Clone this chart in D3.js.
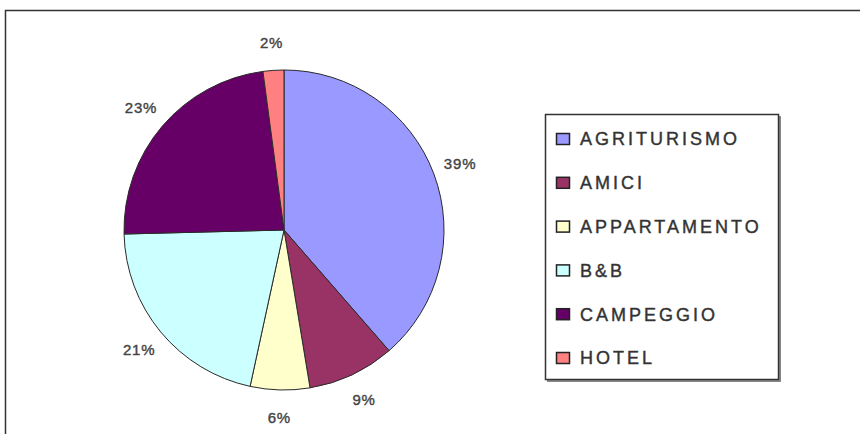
<!DOCTYPE html>
<html>
<head>
<meta charset="utf-8">
<script src="https://cdn.jsdelivr.net/npm/d3@7"></script>
<style>
  body { margin: 0; background: #fff; }
  .pctLabel { font-family: "Liberation Sans", Arial, sans-serif; font-size: 15px; fill: #444; stroke: #444; stroke-width: 0.4px; letter-spacing: 0.8px; }
  .legendText { font-family: "Liberation Sans", Arial, sans-serif; font-size: 18px; fill: #333; stroke: #333; stroke-width: 0.4px; letter-spacing: 3px; }
</style>
</head>
<body>
<script>
// Chart data
var categories = ["AGRITURISMO", "AMICI", "APPARTAMENTO", "B&B", "CAMPEGGIO", "HOTEL"];
var values = [38.6, 8.8, 6.0, 21.2, 23.3, 2.1];
var colors = ["#9999ff", "#993366", "#ffffcc", "#ccffff", "#660066", "#ff8080"];

var svgWidth = 860;
var svgHeight = 434;

var svg = d3.select("body")
    .append("svg")
    .attr("width", svgWidth)
    .attr("height", svgHeight);

// outer frame (runs off the right and bottom edges)
svg.append("path")
    .attr("d", "M5.5,440 L5.5,10.5 L870,10.5")
    .attr("fill", "none")
    .attr("stroke", "#333")
    .attr("stroke-width", 1.5);

var data = categories.map((c, i) => ({ name: c, value: values[i], color: colors[i] }));
var total = d3.sum(values);

var pie = d3.pie()
    .sort(null)
    .value(d => d.value);

var radius = 160;
var arc = d3.arc().innerRadius(0).outerRadius(radius);
var labelArc = d3.arc().innerRadius(188).outerRadius(188);

var pieGroup = svg.append("g")
    .attr("transform", "translate(284, 230)");

pieGroup.selectAll("path")
    .data(pie(data))
    .enter()
    .append("path")
    .attr("d", arc)
    .attr("fill", d => d.data.color)
    .attr("stroke", "#2a2a2a")
    .attr("stroke-width", 1);

pieGroup.selectAll("text")
    .data(pie(data))
    .enter()
    .append("text")
    .attr("class", "pctLabel")
    .attr("transform", d => `translate(${labelArc.centroid(d)})`)
    .attr("text-anchor", "middle")
    .attr("dy", "0.35em")
    .text(d => Math.round(d.data.value / total * 100) + "%");

// Legend
var legend = svg.append("g")
    .attr("transform", "translate(545, 114)");

legend.append("rect")
    .attr("x", 2).attr("y", 2)
    .attr("width", 234).attr("height", 266)
    .attr("fill", "#888");

legend.append("rect")
    .attr("x", 0.5).attr("y", 0.5)
    .attr("width", 233).attr("height", 265)
    .attr("fill", "#fff")
    .attr("stroke", "#333")
    .attr("stroke-width", 1.5);

var yLegend = d3.scalePoint()
    .domain(categories)
    .range([25, 244]);

var items = legend.selectAll(".item")
    .data(data)
    .enter()
    .append("g")
    .attr("class", "item")
    .attr("transform", d => `translate(0, ${yLegend(d.name)})`);

items.append("rect")
    .attr("x", 11.5).attr("y", -5.5)
    .attr("width", 13).attr("height", 11)
    .attr("fill", d => d.color)
    .attr("stroke", "#222")
    .attr("stroke-width", 1.5);

items.append("text")
    .attr("class", "legendText")
    .attr("x", 35)
    .attr("dy", "0.36em")
    .text(d => d.name);
</script>
</body>
</html>
